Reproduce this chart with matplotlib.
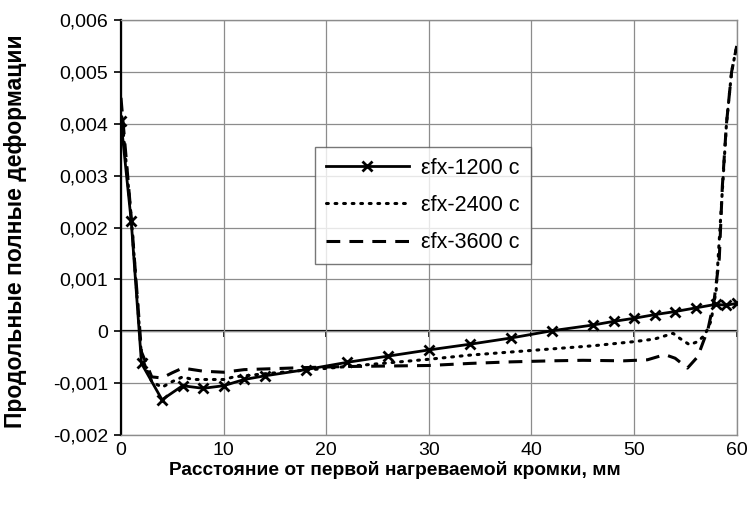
import matplotlib
matplotlib.use("Agg")
import matplotlib.pyplot as plt
from matplotlib.ticker import FuncFormatter, MultipleLocator

plt.rcParams["font.family"] = ["Liberation Sans", "DejaVu Sans"]

# strain profiles along the plate for three heating times
x_1200 = [0, 1, 2, 4, 6, 8, 10, 12, 14, 18, 22, 26, 30, 34, 38, 42,
          46, 48, 50, 52, 54, 56, 58, 59, 60]
y_1200 = [0.00405, 0.00212, -0.00062, -0.00132, -0.00105, -0.00110, -0.00105,
          -0.00093, -0.00086, -0.00074, -0.00060, -0.00048, -0.00036, -0.00025,
          -0.00013, 0.00001, 0.00012, 0.00019, 0.00025, 0.00032, 0.00038,
          0.00045, 0.00052, 0.00050, 0.00054]

x_2400 = [0, 1, 2, 3, 4, 5, 6, 7, 8, 10, 11, 14, 18, 22, 26, 30, 34, 38,
          42, 46, 50, 52, 53.8, 54.4, 55.4, 56.2, 56.9, 57.5, 58, 58.5, 59,
          59.5, 60]
y_2400 = [0.0043, 0.0022, -0.0005, -0.00097, -0.00108, -0.00097, -0.00088,
          -0.00093, -0.00093, -0.00093, -0.00088, -0.00082, -0.00075, -0.00068,
          -0.00061, -0.00054, -0.00046, -0.00040, -0.00034, -0.00028, -0.00020,
          -0.00015, -0.00004, -0.00013, -0.00026, -0.00020, -0.00007, 0.0002,
          0.0008, 0.0024, 0.0040, 0.0050, 0.0055]

x_3600 = [0, 1, 2, 3, 4, 5, 6, 8, 10, 12, 15, 18, 22, 26, 30, 34, 38, 42,
          45, 49, 51.3, 53, 54, 55.2, 56.2, 57.2, 57.8, 58.3, 58.6, 59, 59.5, 60]
y_3600 = [0.0045, 0.0022, -0.0004, -0.00088, -0.00090, -0.00080, -0.00071,
          -0.00077, -0.00079, -0.00074, -0.00072, -0.00070, -0.00068, -0.00067,
          -0.00066, -0.00062, -0.00059, -0.00057, -0.00056, -0.00057, -0.00055,
          -0.00045, -0.00052, -0.00071, -0.00049, 0.00004, 0.0006, 0.0014,
          0.0028, 0.0040, 0.0050, 0.0055]

labels = ["εfx-1200 c", "εfx-2400 c", "εfx-3600 c"]

fig = plt.figure(figsize=(7.5, 5.05), dpi=100)
ax = fig.add_axes([0.1613, 0.1386, 0.8210, 0.8218])

ax.plot(x_1200, y_1200, color="black", lw=2.0, marker="x", ms=7, mew=2.0,
        label=labels[0], zorder=4)
ax.plot(x_2400, y_2400, color="black", lw=2.2, linestyle=(0, (0.6, 2.2)),
        dash_capstyle="round", label=labels[1], zorder=3)
ax.plot(x_3600, y_3600, color="black", lw=2.2, linestyle=(0, (4.5, 3)),
        label=labels[2], zorder=3)

ax.set_xlim(0, 60)
ax.set_ylim(-0.002, 0.006)
ax.xaxis.set_major_locator(MultipleLocator(10))
ax.yaxis.set_major_locator(MultipleLocator(0.001))


def comma_fmt(v, pos):
    if abs(v) < 1e-12:
        return "0"
    return f"{v:.3f}".replace(".", ",")


ax.yaxis.set_major_formatter(FuncFormatter(comma_fmt))
ax.grid(True, color="#8c8c8c", lw=0.9)
ax.set_axisbelow(True)

for side in ("top", "right", "bottom"):
    ax.spines[side].set_color("#8c8c8c")
    ax.spines[side].set_linewidth(1.0)
ax.spines["left"].set_color("black")
ax.spines["left"].set_linewidth(1.6)
ax.tick_params(axis="y", direction="out", length=5, width=1.2, labelsize=14,
               pad=4)
ax.tick_params(axis="x", length=0, labelsize=14, pad=5)

# zero line with small ticks, as in the spreadsheet axis
zero_ax = ax.secondary_xaxis(0.25)
zero_ax.spines["bottom"].set_linewidth(1.6)
zero_ax.xaxis.set_major_locator(MultipleLocator(10))
zero_ax.tick_params(axis="x", direction="out", length=4, width=1.2,
                    labelbottom=False)

ax.set_xlabel("Расстояние от первой нагреваемой кромки, мм", fontsize=13.8,
              fontweight="bold")
ax.xaxis.set_label_coords(0.445, -0.062)
ax.set_ylabel("Продольные полные деформации", fontsize=16.5, fontweight="bold")
ax.yaxis.set_label_coords(-0.152, 0.49)

leg = ax.legend(loc="upper left", bbox_to_anchor=(0.315, 0.694), fontsize=15.5,
                frameon=True, fancybox=False, edgecolor="#555555",
                handlelength=3.85, handletextpad=0.6, borderpad=0.5,
                labelspacing=0.75, borderaxespad=0)
leg.get_frame().set_linewidth(1.0)

fig.savefig("out.png", dpi=100)
